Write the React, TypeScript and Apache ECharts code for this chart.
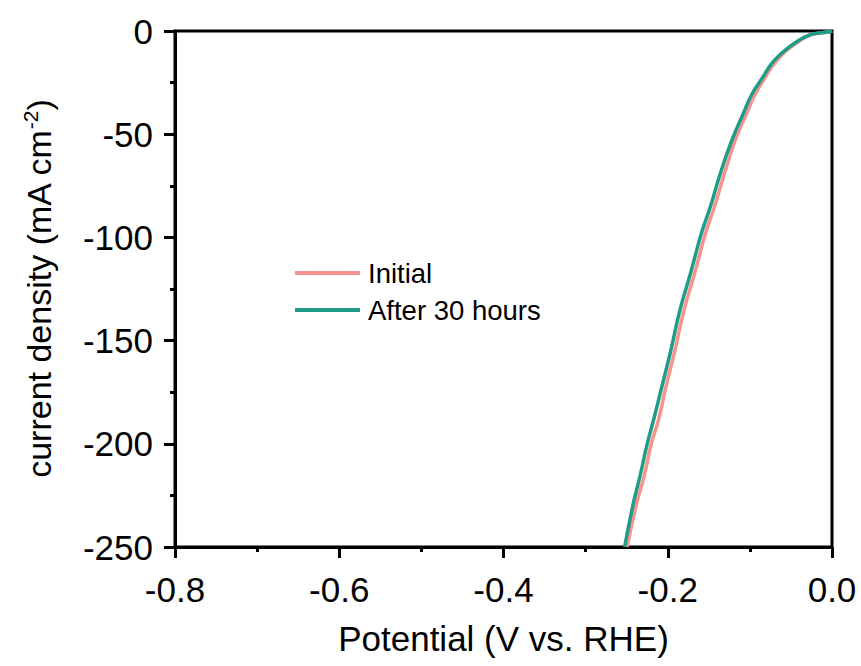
import React, { useEffect, useRef } from "react";
import * as echarts from "echarts";

const seriesNames = ["Initial", "After 30 hours"];

const initialPotential = [0, -0.004, -0.014, -0.026, -0.041, -0.057, -0.070, -0.082, -0.094, -0.104, -0.118, -0.131, -0.143, -0.154, -0.167, -0.180, -0.192, -0.202, -0.211, -0.220, -0.229, -0.238, -0.2495];
const initialCurrent = [0, -0.5, -1.0, -1.9, -5.2, -10, -15.6, -22.9, -31, -40, -53, -69, -85, -98, -117, -135, -156, -172, -188, -200, -216, -229, -250];

const afterPotential = [0, -0.005, -0.015, -0.027, -0.043, -0.059, -0.073, -0.085, -0.098, -0.108, -0.122, -0.136, -0.148, -0.159, -0.172, -0.185, -0.197, -0.207, -0.217, -0.225, -0.234, -0.242, -0.2525];
const afterCurrent = [0, -0.5, -1.0, -1.9, -5.2, -10, -15.6, -22.9, -31, -40, -53, -69, -85, -98, -117, -135, -156, -172, -188, -200, -216, -229, -250];

const xTicks = { min: -0.8, max: 0, interval: 0.2 };
const yTicks = { min: -250, max: 0, interval: 50 };

const colors = ["#f6938e", "#1f9c88"];
const FONT = "Arial, 'Liberation Sans', sans-serif";

export default function App() {
  const ref = useRef<HTMLDivElement>(null);
  useEffect(() => {
    if (!ref.current) return;
    const chart = echarts.init(ref.current, null, { renderer: "svg" });
    const pair = (xs: number[], ys: number[]) => xs.map((x, i) => [x, ys[i]]);
    chart.setOption({
      animation: false,
      backgroundColor: "#fff",
      textStyle: { fontFamily: FONT, color: "#000" },
      grid: {
        left: 175,
        right: 29,
        top: 31,
        bottom: 119,
        show: true,
        borderColor: "#000",
        borderWidth: 3,
      },
      legend: {
        orient: "vertical",
        left: 290,
        top: 254,
        itemWidth: 65,
        itemHeight: 4,
        itemGap: 9,
        icon: "rect",
        textStyle: { fontSize: 27.5, color: "#000", fontFamily: FONT, padding: [0, 0, 0, 3] },
        data: seriesNames,
      },
      xAxis: {
        type: "value",
        min: xTicks.min,
        max: xTicks.max,
        interval: xTicks.interval,
        name: "Potential (V vs. RHE)",
        nameLocation: "middle",
        nameGap: 74,
        nameTextStyle: { fontSize: 35, color: "#000", fontFamily: FONT },
        axisLine: { onZero: false, lineStyle: { color: "#000", width: 3 } },
        axisTick: { inside: false, length: 11, lineStyle: { width: 3, color: "#000" } },
        minorTick: { show: true, splitNumber: 2, length: 5, lineStyle: { width: 3, color: "#000" } },
        axisLabel: {
          fontSize: 35,
          color: "#000",
          margin: 25,
          fontFamily: FONT,
          formatter: (v: number) => v.toFixed(1),
        },
        splitLine: { show: false },
      },
      yAxis: {
        type: "value",
        min: yTicks.min,
        max: yTicks.max,
        interval: yTicks.interval,
        name: "current density (mA cm{sup|-2})",
        nameLocation: "middle",
        nameGap: 118,
        nameRotate: 90,
        nameTextStyle: {
          fontSize: 34,
          color: "#000",
          fontFamily: FONT,
          rich: {
            sup: { fontSize: 21, verticalAlign: "top", padding: [0, 0, 16, 0], color: "#000", fontFamily: FONT },
          },
        },
        axisLine: { onZero: false, lineStyle: { color: "#000", width: 3 } },
        axisTick: { inside: false, length: 11, lineStyle: { width: 3, color: "#000" } },
        minorTick: { show: true, splitNumber: 2, length: 5, lineStyle: { width: 3, color: "#000" } },
        axisLabel: { fontSize: 35, color: "#000", margin: 22, fontFamily: FONT },
        splitLine: { show: false },
      },
      series: [
        {
          name: seriesNames[0],
          type: "line",
          data: pair(initialPotential, initialCurrent),
          smooth: true,
          showSymbol: false,
          symbol: "none",
          color: colors[0],
          lineStyle: { width: 3.5, color: colors[0] },
          z: 2,
        },
        {
          name: seriesNames[1],
          type: "line",
          data: pair(afterPotential, afterCurrent),
          smooth: true,
          showSymbol: false,
          symbol: "none",
          color: colors[1],
          lineStyle: { width: 3.5, color: colors[1] },
          z: 3,
        },
      ],
    });
    return () => chart.dispose();
  }, []);
  return <div ref={ref} style={{ width: 861, height: 666, position: "absolute", left: 0, top: 0 }} />;
}
